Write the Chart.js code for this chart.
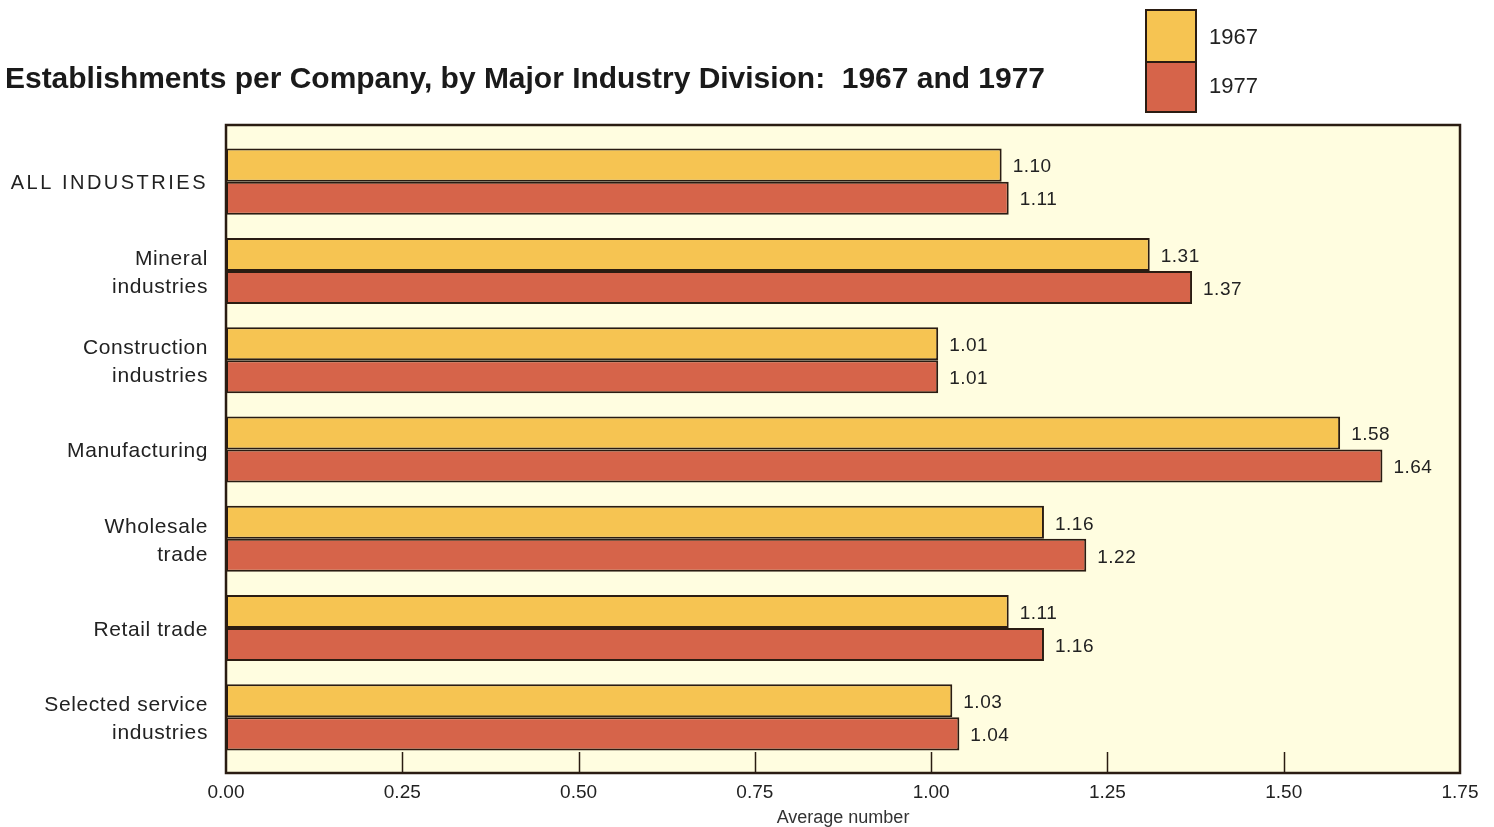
<!DOCTYPE html>
<html>
<head>
<meta charset="utf-8">
<script src="https://cdn.jsdelivr.net/npm/chart.js@4.4.1/dist/chart.umd.min.js"></script>
<style>
  html, body { margin: 0; padding: 0; background: #fff; }
  #wrap { width: 1494px; height: 827px; position: relative; }
</style>
</head>
<body>
<div id="wrap"><canvas id="chart"></canvas></div>
<script>
// data
const categories = [
    ["ALL INDUSTRIES"],
    ["Mineral", "industries"],
    ["Construction", "industries"],
    ["Manufacturing"],
    ["Wholesale", "trade"],
    ["Retail trade"],
    ["Selected service", "industries"]
];
const values1967 = [1.10, 1.31, 1.01, 1.58, 1.16, 1.11, 1.03];
const values1977 = [1.11, 1.37, 1.01, 1.64, 1.22, 1.16, 1.04];
const xTicks = [0, 0.25, 0.50, 0.75, 1.00, 1.25, 1.50, 1.75];
const seriesNames = ["1967", "1977"];

const yellow = '#f6c452';
const red = '#d6644a';
const edge = '#2a1c12';
const plotBg = '#fffde0';
const textColor = '#222';
const FONT = '"Liberation Sans", Arial, sans-serif';

// the printed frame sits a little outside the band area of the bars
const frameTop = 12, frameBottom = 11;

function frameRect(chart) {
    const a = chart.chartArea;
    return { l: a.left, t: a.top - frameTop, r: a.right, b: a.bottom + frameBottom };
}

const decor = {
    id: 'decor',
    beforeDraw(chart) {
        const ctx = chart.ctx;
        const f = frameRect(chart);
        ctx.save();
        ctx.fillStyle = '#fff';
        ctx.fillRect(0, 0, chart.width, chart.height);
        ctx.fillStyle = plotBg;
        ctx.fillRect(f.l, f.t, f.r - f.l, f.b - f.t);
        ctx.restore();
    },
    afterDatasetsDraw(chart) {
        const ctx = chart.ctx;
        const f = frameRect(chart);
        const xs = chart.scales.x;
        ctx.save();
        // value labels
        ctx.font = '19px ' + FONT;
        ctx.letterSpacing = '0.5px';
        ctx.fillStyle = textColor;
        ctx.textBaseline = 'middle';
        ctx.textAlign = 'left';
        chart.data.datasets.forEach((ds, di) => {
            chart.getDatasetMeta(di).data.forEach((bar, i) => {
                ctx.fillText(ds.data[i].toFixed(2), bar.x + 11, bar.y + 2);
            });
        });
        // inner tick marks rising from the bottom edge
        ctx.strokeStyle = edge;
        ctx.lineWidth = 1.5;
        xTicks.slice(1, -1).forEach(v => {
            const x = Math.round(xs.getPixelForValue(v)) + 0.5;
            ctx.beginPath();
            ctx.moveTo(x, f.b);
            ctx.lineTo(x, f.b - 21);
            ctx.stroke();
        });
        // plot frame
        ctx.lineWidth = 2.5;
        ctx.strokeRect(f.l, f.t, f.r - f.l, f.b - f.t);
        ctx.restore();
    },
    afterDraw(chart) {
        const ctx = chart.ctx;
        const ys = chart.scales.y;
        ctx.save();
        // category labels, right aligned beside the frame
        ctx.fillStyle = textColor;
        ctx.textBaseline = 'middle';
        ctx.textAlign = 'right';
        categories.forEach((lines, i) => {
            const cy = ys.getPixelForValue(i) + 2;
            const lineH = 28;
            const y0 = cy - (lines.length - 1) * lineH / 2;
            ctx.font = (i === 0 ? '20px ' : '21px ') + FONT;
            ctx.letterSpacing = i === 0 ? '2.5px' : '0.6px';
            lines.forEach((t, k) => ctx.fillText(t, 208, y0 + k * lineH));
        });
        ctx.letterSpacing = '0px';
        // title
        ctx.textAlign = 'left';
        ctx.fillStyle = '#1a1a1a';
        ctx.font = 'bold 30px ' + FONT;
        ctx.fillText('Establishments per Company, by Major Industry Division:  1967 and 1977', 5, 80, 1040);
        // legend: two stacked swatches
        const colors = [yellow, red];
        const boxTop = [10, 62];
        const boxH = [52, 50];
        ctx.lineWidth = 2;
        ctx.strokeStyle = edge;
        colors.forEach((c, i) => {
            ctx.fillStyle = c;
            ctx.fillRect(1146, boxTop[i], 50, boxH[i]);
            ctx.strokeRect(1146, boxTop[i], 50, boxH[i]);
        });
        ctx.fillStyle = textColor;
        ctx.font = '22px ' + FONT;
        ctx.fillText(seriesNames[0], 1209, 38);
        ctx.fillText(seriesNames[1], 1209, 87);
        ctx.restore();
    }
};

new Chart(document.getElementById('chart'), {
    type: 'bar',
    data: {
        labels: categories,
        datasets: [
            { label: seriesNames[0], data: values1967, backgroundColor: yellow },
            { label: seriesNames[1], data: values1977, backgroundColor: red }
        ].map(d => Object.assign(d, {
            borderColor: edge,
            borderWidth: 2,
            borderSkipped: false,
            barPercentage: 1.0,
            categoryPercentage: 0.74
        }))
    },
    options: {
        indexAxis: 'y',
        responsive: true,
        maintainAspectRatio: false,
        animation: false,
        layout: { padding: { top: 125 + frameTop, right: 34, bottom: 0, left: 0 } },
        scales: {
            x: {
                min: 0,
                max: 1.75,
                afterBuildTicks: s => { s.ticks = xTicks.map(v => ({ value: v })); },
                afterFit: s => {
                    s.height = 54 + frameBottom;
                    s.paddingLeft = 0;
                    s.paddingRight = 0;
                },
                grid: { display: false, drawTicks: false },
                border: { display: false },
                ticks: {
                    padding: 8 + frameBottom,
                    maxRotation: 0,
                    color: textColor,
                    font: { family: FONT, size: 19 },
                    callback: v => Number(v).toFixed(2)
                },
                title: {
                    display: true,
                    text: 'Average number',
                    color: '#333',
                    padding: { top: 0, bottom: -2 },
                    font: { family: FONT, size: 18 }
                }
            },
            y: {
                afterFit: s => { s.width = 226; },
                grid: { display: false, drawTicks: false },
                border: { display: false },
                ticks: { display: false }
            }
        },
        plugins: {
            legend: { display: false },
            tooltip: { enabled: false }
        }
    },
    plugins: [decor]
});
</script>
</body>
</html>
